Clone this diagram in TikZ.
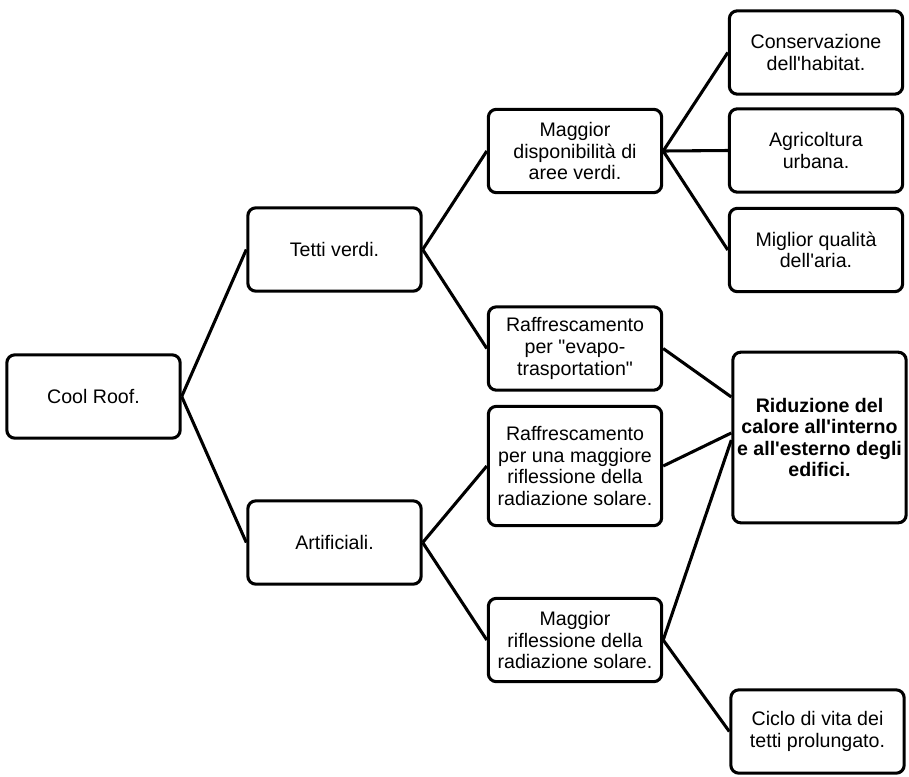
\documentclass[tikz,border=0pt]{standalone}
\usepackage{fontspec}
\setmainfont{Liberation Sans}
\tikzset{
  box/.style={draw,line width=2.3pt,rounded corners=6pt,align=center,
    minimum width=130pt,minimum height=62.5pt,inner sep=2pt,
    font=\fontsize{14.7}{16.2}\selectfont},
}

\begin{document}
\begin{tikzpicture}[x=0.75pt,y=-0.75pt,line width=2.3pt]
  \useasboundingbox (0,0) rectangle (909,776);
  \node[box] (cool)  at (93.5,396.5) {Cool Roof.};
  \node[box] (tetti) at (334.5,249.5) {Tetti verdi.};
  \node[box] (artif) at (334.5,542.5) {Artificiali.};
  \node[box] (magg)  at (575,151) {Maggior\\disponibilità di\\aree verdi.};
  \node[box] (evapo) at (575,348.5) {Raffrescamento\\per \textquotedbl evapo-\\trasportation\textquotedbl};
  \node[box,minimum height=89.5pt] (raffr) at (575,466) {Raffrescamento\\per una maggiore\\riflessione della\\radiazione solare.};
  \node[box] (rifl)  at (575,640) {Maggior\\riflessione della\\radiazione solare.};
  \node[box] (cons)  at (816,52.5) {Conservazione\\dell\textquotesingle habitat.};
  \node[box] (agri)  at (816,150.5) {Agricoltura\\urbana.};
  \node[box] (migl)  at (816,250) {Miglior qualità\\dell\textquotesingle aria.};
  \node[box,minimum height=128pt,font=\fontsize{14.7}{16.2}\selectfont\bfseries] (rid) at (819.5,437.5)
    {Riduzione del\\calore all\textquotesingle interno\\e all\textquotesingle esterno degli\\edifici.};
  \node[box] (ciclo) at (817.5,731.5) {Ciclo di vita dei\\tetti prolungato.};
  \coordinate (r1) at ([yshift=30.4pt]rid.west);
  \coordinate (r2) at ([yshift=3.4pt]rid.west);
  \coordinate (r3) at ([yshift=-1.9pt]rid.west);
  \draw (cool.east) -- (tetti.west);
  \draw (cool.east) -- (artif.west);
  \draw (tetti.east) -- (magg.west);
  \draw (tetti.east) -- (evapo.west);
  \draw (artif.east) -- (raffr.west);
  \draw (artif.east) -- (rifl.west);
  \draw (magg.east) -- (cons.west);
  \draw (magg.east) -- (agri.west);
  \draw (magg.east) -- (migl.west);
  \draw (evapo.east) -- (r1);
  \draw (raffr.east) -- (r2);
  \draw (rifl.east) -- (r3);
  \draw (rifl.east) -- (ciclo.west);
\end{tikzpicture}
\end{document}
